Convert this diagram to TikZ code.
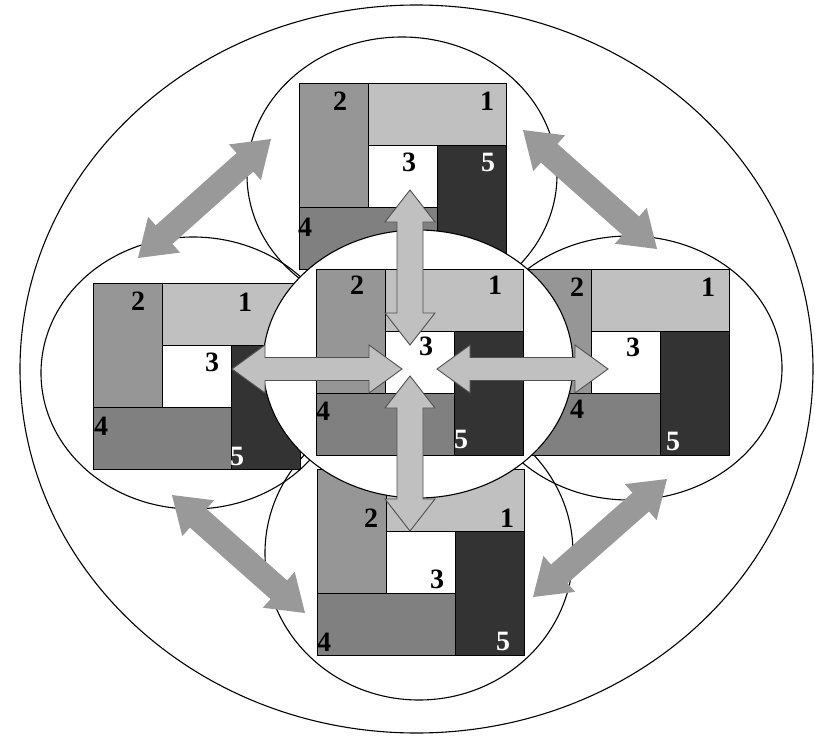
\documentclass[tikz,border=0pt]{standalone}
\usepackage{fontspec}
\setmainfont{Liberation Serif}
\usetikzlibrary{calc}
\definecolor{cone}{HTML}{C0C0C0}
\definecolor{ctwo}{HTML}{969696}
\definecolor{cfour}{HTML}{808080}
\definecolor{cfive}{HTML}{333333}
\definecolor{arrowgray}{HTML}{999999}
\definecolor{arrowline}{HTML}{505050}
\tikzset{
  ring/.style={draw=black, line width=1.1pt},
  cell/.style={draw=black, line width=0.9pt},
  num/.style={font=\fontsize{28}{28}\selectfont\bfseries, inner sep=0pt},
  numw/.style={num, text=white},
  bigarrow/.style={fill=arrowgray, draw=none},
  midarrow/.style={fill=cone, draw=arrowline, line width=0.9pt, line join=miter},
}
\newcommand\panel[2]{%
  \path[cell, fill=cone]  ({#1+69},{#2})      rectangle ({#1+207},{#2+62});
  \path[cell, fill=ctwo]  ({#1},{#2})         rectangle ({#1+69},{#2+124});
  \path[cell, fill=white] ({#1+69},{#2+62})   rectangle ({#1+138},{#2+124});
  \path[cell, fill=cfour] ({#1},{#2+124})     rectangle ({#1+138},{#2+186});
  \path[cell, fill=cfive] ({#1+138},{#2+62})  rectangle ({#1+207},{#2+186});
}
\newcommand\dblarrow[6]{%
  \path[#3] (#1)
   -- ($(#1)!#4!(#2)!#5!90:(#2)$)
   -- ($(#1)!#4!(#2)!#6!90:(#2)$)
   -- ($(#2)!#4!(#1)!#6!-90:(#1)$)
   -- ($(#2)!#4!(#1)!#5!-90:(#1)$)
   -- (#2)
   -- ($(#2)!#4!(#1)!#5!90:(#1)$)
   -- ($(#2)!#4!(#1)!#6!90:(#1)$)
   -- ($(#1)!#4!(#2)!#6!-90:(#2)$)
   -- ($(#1)!#4!(#2)!#5!-90:(#2)$)
   -- cycle;}
\begin{document}
\begin{tikzpicture}[x=1pt,y=-1pt]
\useasboundingbox (0,0) rectangle (815,736);
% outer ellipse
\draw[ring] (416.5,369) ellipse [x radius=396.5pt, y radius=364pt];
% peripheral circles
\draw[ring] (402,175) ellipse [x radius=155pt, y radius=138pt];
\draw[ring] (193,373) ellipse [x radius=152pt, y radius=136pt];
\draw[ring] (629,368) ellipse [x radius=153pt, y radius=132pt];
\draw[ring] (419,553) ellipse [x radius=154pt, y radius=147pt];
% top panel
\panel{299}{83}
\node[num]  (t2) at (340,101) {2};
\node[num]  (t1) at (487,101) {1};
\node[num]  (t3) at (409,162) {3};
\node[numw] (t5) at (488,162) {5};
\node[num]  (t4) at (305,227) {4};
% left panel
\panel{93}{283}
\node[num]  (l2) at (138,301) {2};
\node[num]  (l1) at (245,302) {1};
\node[num]  (l3) at (212,362) {3};
\node[num]  (l4) at (101,426) {4};
\node[numw] (l5) at (237,456) {5};
% right panel
\panel{522}{269}
\node[num]  (r2) at (577,287) {2};
\node[num]  (r1) at (708,287) {1};
\node[num]  (r3) at (633,347) {3};
\node[num]  (r4) at (577,409) {4};
\node[numw] (r5) at (673,441) {5};
% bottom panel
\panel{317}{469}
\node[num]  (b2) at (371,518) {2};
\node[num]  (b1) at (507,518) {1};
\node[num]  (b3) at (437,579) {3};
\node[num]  (b4) at (324,642) {4};
\node[numw] (b5) at (503,641) {5};
% diagonal arrows
\coordinate (d1a) at (138,258); \coordinate (d1b) at (271,139);
\coordinate (d2a) at (523,130); \coordinate (d2b) at (657,249);
\coordinate (d3a) at (172,495); \coordinate (d3b) at (305,613);
\coordinate (d4a) at (533,597); \coordinate (d4b) at (667,479);
\dblarrow{d1a}{d1b}{bigarrow}{35pt}{24pt}{12.5pt}
\dblarrow{d2a}{d2b}{bigarrow}{35pt}{24pt}{12.5pt}
\dblarrow{d3a}{d3b}{bigarrow}{35pt}{24pt}{12.5pt}
\dblarrow{d4a}{d4b}{bigarrow}{35pt}{24pt}{12.5pt}
% central circle
\draw[ring, fill=white] (418,364) ellipse [x radius=155pt, y radius=134pt];
% central panel
\panel{316}{269}
\node[num]  (c2) at (357,285) {2};
\node[num]  (c1) at (495,285) {1};
\node[num]  (c3) at (426,346) {3};
\node[num]  (c4) at (323,411) {4};
\node[numw] (c5) at (461,439) {5};
% central arrows
\coordinate (v1a) at (410,190); \coordinate (v1b) at (410,345);
\coordinate (v2a) at (410,376); \coordinate (v2b) at (410,531);
\coordinate (h1a) at (232,369); \coordinate (h1b) at (402,369);
\coordinate (h2a) at (437,369); \coordinate (h2b) at (608,369);
\dblarrow{v1a}{v1b}{midarrow}{32pt}{25pt}{13pt}
\dblarrow{v2a}{v2b}{midarrow}{32pt}{25pt}{13pt}
\dblarrow{h1a}{h1b}{midarrow}{33pt}{24pt}{11.5pt}
\dblarrow{h2a}{h2b}{midarrow}{33pt}{24pt}{11.5pt}
\end{tikzpicture}
\end{document}
